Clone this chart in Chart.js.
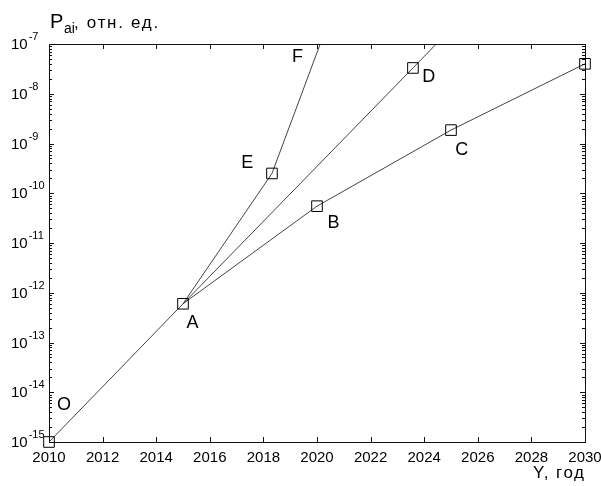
<!DOCTYPE html>
<html lang="ru">
<head>
  <meta charset="UTF-8">
  <title>Pai, отн. ед.</title>
  <style>
    body { margin: 0; background: #fff; }
    canvas { display: block; }
  </style>
</head>
<body>
  <canvas id="chart" width="601" height="486"></canvas>

  <script src="https://cdn.jsdelivr.net/npm/chart.js@4.4.1/dist/chart.umd.min.js"></script>
  <script>
    // axis ticks
    const xTicks = [2010, 2012, 2014, 2016, 2018, 2020, 2022, 2024, 2026, 2028, 2030];
    const yExponents = [-15, -14, -13, -12, -11, -10, -9, -8, -7];

    // O - A - B - C - end
    const yearsMain = [2010, 2015, 2020, 2025, 2030];
    const valuesMain = [1.0e-15, 6.0e-13, 5.5e-11, 1.86e-9, 4.0e-8];
    // A - D - top
    const yearsD = [2015, 2023.58, 2024.45];
    const valuesD = [6.0e-13, 3.3e-8, 1.0e-7];
    // A - E - F (top)
    const yearsF = [2015, 2018.32, 2020.12];
    const valuesF = [6.0e-13, 2.5e-10, 1.0e-7];

    // point letters
    const letterTexts = ['O', 'A', 'B', 'C', 'D', 'E', 'F'];
    const letterYears = [2010.56, 2015.35, 2020.62, 2025.4, 2024.17, 2017.4, 2019.27];
    const letterValues = [5.5e-15, 2.5e-13, 2.5e-11, 7.4e-10, 2.2e-8, 4.1e-10, 5.5e-8];

    const FONT = '"Liberation Sans", Arial, sans-serif';
    const toPoints = (xs, ys) => xs.map((x, i) => ({ x, y: ys[i] }));

    function lineSet(xs, ys, radii) {
      return {
        data: toPoints(xs, ys),
        showLine: true,
        borderColor: '#444',
        borderWidth: 1,
        pointStyle: 'rect',
        pointRadius: radii,
        pointBorderColor: '#000',
        pointBorderWidth: 1,
        pointBackgroundColor: 'rgba(0,0,0,0)',
        clip: false
      };
    }

    const decorations = {
      id: 'decorations',
      afterDraw(chart) {
        const { ctx, chartArea: a, scales: { x, y } } = chart;
        ctx.save();
        ctx.strokeStyle = '#111';
        ctx.lineWidth = 1;
        ctx.strokeRect(a.left + 0.5, a.top + 0.5, a.right - a.left, a.bottom - a.top);

        ctx.beginPath();
        // x ticks, bottom and top, pointing inward
        xTicks.forEach(v => {
          const px = Math.round(x.getPixelForValue(v)) + 0.5;
          ctx.moveTo(px, a.bottom); ctx.lineTo(px, a.bottom - 5);
          ctx.moveTo(px, a.top); ctx.lineTo(px, a.top + 5);
        });
        // y ticks, majors and log minors, left and right
        yExponents.forEach((e, i) => {
          const py = Math.round(y.getPixelForValue(Math.pow(10, e))) + 0.5;
          ctx.moveTo(a.left, py); ctx.lineTo(a.left + 5, py);
          ctx.moveTo(a.right, py); ctx.lineTo(a.right - 5, py);
          if (i < yExponents.length - 1) {
            for (let m = 2; m <= 9; m++) {
              const my = Math.round(y.getPixelForValue(m * Math.pow(10, e))) + 0.5;
              ctx.moveTo(a.left, my); ctx.lineTo(a.left + 3, my);
              ctx.moveTo(a.right, my); ctx.lineTo(a.right - 3, my);
            }
          }
        });
        ctx.stroke();

        ctx.fillStyle = '#000';
        // x tick labels
        ctx.font = '15px ' + FONT;
        ctx.textAlign = 'center';
        ctx.textBaseline = 'top';
        xTicks.forEach(v => ctx.fillText(String(v), x.getPixelForValue(v), a.bottom + 8));

        // y tick labels: 10 with superscript exponent
        ctx.textAlign = 'left';
        ctx.textBaseline = 'middle';
        yExponents.forEach(e => {
          const py = y.getPixelForValue(Math.pow(10, e));
          ctx.font = '15px ' + FONT;
          ctx.fillText('10', 11, py + 1);
          const w = ctx.measureText('10').width;
          ctx.font = '11px ' + FONT;
          ctx.fillText(String(e), 11 + w + 1, py - 7);
        });

        // axis titles
        ctx.textBaseline = 'alphabetic';
        ctx.font = '20px ' + FONT;
        ctx.fillText('P', 50, 28);
        ctx.font = '14px ' + FONT;
        ctx.fillText('ai', 64, 33);
        ctx.font = '17px ' + FONT;
        ctx.letterSpacing = '1.7px';
        ctx.fillText(', отн. ед.', 74, 28);
        ctx.letterSpacing = '1.5px';
        ctx.fillText('Y, год', 533, 478);
        ctx.letterSpacing = '0px';

        // point letters
        ctx.font = '18px ' + FONT;
        ctx.textAlign = 'center';
        ctx.textBaseline = 'middle';
        letterTexts.forEach((t, i) => {
          ctx.fillText(t, x.getPixelForValue(letterYears[i]), y.getPixelForValue(letterValues[i]));
        });
        ctx.restore();
      }
    };

    new Chart(document.getElementById('chart'), {
      type: 'scatter',
      data: {
        datasets: [
          lineSet(yearsMain, valuesMain, [7.5, 7.5, 7.5, 7.5, 7.5]),
          lineSet(yearsD, valuesD, [0, 7.5, 0]),
          lineSet(yearsF, valuesF, [0, 7.5, 0])
        ]
      },
      options: {
        responsive: false,
        animation: false,
        layout: { padding: { left: 49, top: 44, right: 16, bottom: 44 } },
        plugins: { legend: { display: false }, tooltip: { enabled: false } },
        scales: {
          x: { type: 'linear', min: 2010, max: 2030, display: false },
          y: { type: 'logarithmic', min: 1e-15, max: 1e-7, display: false }
        }
      },
      plugins: [decorations]
    });
  </script>
</body>
</html>
